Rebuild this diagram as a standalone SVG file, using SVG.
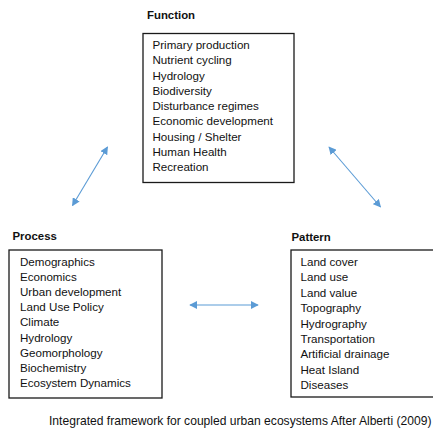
<svg xmlns="http://www.w3.org/2000/svg" width="433" height="440" viewBox="0 0 433 440">
<defs>
<style>
.box{fill:#fff;stroke:#1a1a1a;stroke-width:1.3}
.t{font-family:"Liberation Sans",Arial,sans-serif;font-size:11.6px;fill:#111}
.c{font-family:"Liberation Sans",Arial,sans-serif;font-size:12.1px;fill:#111}
.h{font-family:"Liberation Sans",Arial,sans-serif;font-size:11.4px;font-weight:bold;fill:#111}
.arr{stroke:#5B9BD5;stroke-width:1.1;fill:none;marker-start:url(#ah);marker-end:url(#ah)}
</style>
<marker id="ah" viewBox="0 0 10 10" refX="9" refY="5" markerWidth="8" markerHeight="8" markerUnits="userSpaceOnUse" orient="auto-start-reverse">
<path d="M0,0 L10,5 L0,10 z" fill="#5B9BD5"/>
</marker>
</defs>
<rect width="433" height="440" fill="#fff"/>
<g id="function">
<text class="h" x="147" y="19">Function</text>
<rect class="box" x="143" y="33.5" width="151" height="149"/>
<text class="t" x="152.5" y="49">Primary production</text>
<text class="t" x="152.5" y="64.3">Nutrient cycling</text>
<text class="t" x="152.5" y="79.5">Hydrology</text>
<text class="t" x="152.5" y="94.8">Biodiversity</text>
<text class="t" x="152.5" y="110">Disturbance regimes</text>
<text class="t" x="152.5" y="125.3">Economic development</text>
<text class="t" x="152.5" y="140.5">Housing / Shelter</text>
<text class="t" x="152.5" y="155.8">Human Health</text>
<text class="t" x="152.5" y="171">Recreation</text>
</g>
<g id="process">
<text class="h" x="12.5" y="240">Process</text>
<rect class="box" x="9" y="250" width="153" height="148"/>
<text class="t" x="20" y="265.5">Demographics</text>
<text class="t" x="20" y="280.7">Economics</text>
<text class="t" x="20" y="295.9">Urban development</text>
<text class="t" x="20" y="311.1">Land Use Policy</text>
<text class="t" x="20" y="326.3">Climate</text>
<text class="t" x="20" y="341.5">Hydrology</text>
<text class="t" x="20" y="356.7">Geomorphology</text>
<text class="t" x="20" y="371.9">Biochemistry</text>
<text class="t" x="20" y="387.1">Ecosystem Dynamics</text>
</g>
<g id="pattern">
<text class="h" x="291.5" y="240.5">Pattern</text>
<rect class="box" x="291" y="250" width="145" height="147"/>
<text class="t" x="300.5" y="266">Land cover</text>
<text class="t" x="300.5" y="281.4">Land use</text>
<text class="t" x="300.5" y="296.8">Land value</text>
<text class="t" x="300.5" y="312.1">Topography</text>
<text class="t" x="300.5" y="327.5">Hydrography</text>
<text class="t" x="300.5" y="342.9">Transportation</text>
<text class="t" x="300.5" y="358.3">Artificial drainage</text>
<text class="t" x="300.5" y="373.6">Heat Island</text>
<text class="t" x="300.5" y="389">Diseases</text>
</g>
<g id="connectors">
<line class="arr" x1="72.5" y1="205.5" x2="107.5" y2="147"/>
<line class="arr" x1="329" y1="147" x2="380.5" y2="207"/>
<line class="arr" x1="190" y1="305" x2="258" y2="305"/>
</g>
<text class="c" x="49" y="425">Integrated framework for coupled urban ecosystems After Alberti (2009)</text>
</svg>
